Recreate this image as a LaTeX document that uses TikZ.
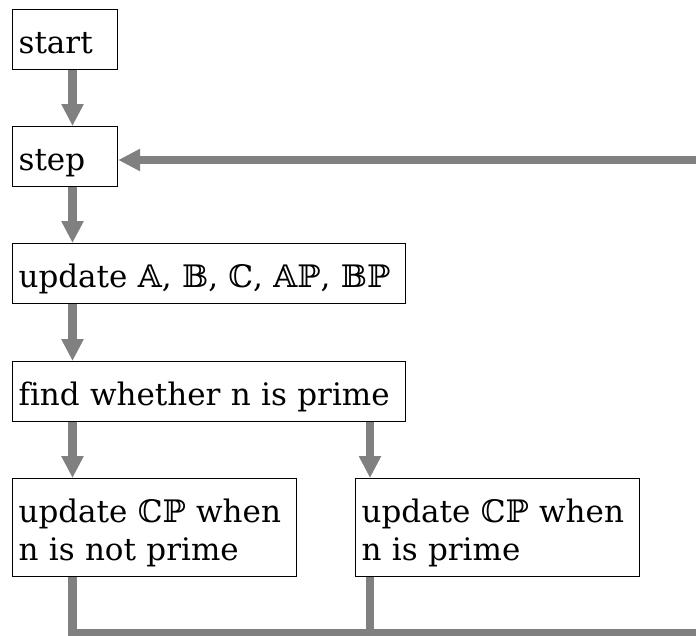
\documentclass[tikz,border=0pt]{standalone}
\usepackage{fontspec}
\setmainfont[Ligatures=CommonOff]{DejaVu Serif}
\usetikzlibrary{arrows.meta}

\begin{document}
\begin{tikzpicture}[x=1pt,y=-1pt,
  box/.style={draw,line width=1.2pt,anchor=north west,inner xsep=6pt,inner ysep=8pt,
    text height=36pt,text depth=8pt,align=left,font=\fontsize{31}{38}\selectfont},
  flow/.style={draw=gray,line width=8.5pt,-{Triangle[length=22pt,width=21pt]}},
  feed/.style={draw=gray,line width=8.5pt}]
\useasboundingbox (0,0) rectangle (696,635);
\node[box,text width=93pt] (start) at (12,9) {start};
\node[box,text width=93pt] (step) at (12,126) {step};
\node[box,text width=381pt] (upd) at (12,243) {update 𝔸, 𝔹, ℂ, 𝔸ℙ, 𝔹ℙ};
\node[box,text width=381pt] (find) at (12,361) {find whether n is prime};
\node[box,text width=272pt,text depth=46pt] (nprime) at (12,478) {update ℂℙ when\\n is not prime};
\node[box,text width=272pt,text depth=46pt] (prime) at (355,478) {update ℂℙ when\\n is prime};
\coordinate (lane) at (72.5,0);
\coordinate (rlane) at (370,0);
\coordinate (back) at (0,160);
\coordinate (floor) at (0,633.5);
\coordinate (far) at (740,0);
\draw[flow] (start.south -| lane) -- (step.north -| lane);
\draw[flow] (step.south -| lane) -- (upd.north -| lane);
\draw[flow] (upd.south -| lane) -- (find.north -| lane);
\draw[flow] (find.south -| lane) -- (nprime.north -| lane);
\draw[flow] (find.south -| rlane) -- (prime.north -| rlane);
\draw[feed] (prime.south -| rlane) -- (floor -| rlane);
\draw[flow] (nprime.south -| lane) -- (floor -| lane) -- (floor -| far) -- (back -| far) -- (step.east |- back);
\end{tikzpicture}
\end{document}
